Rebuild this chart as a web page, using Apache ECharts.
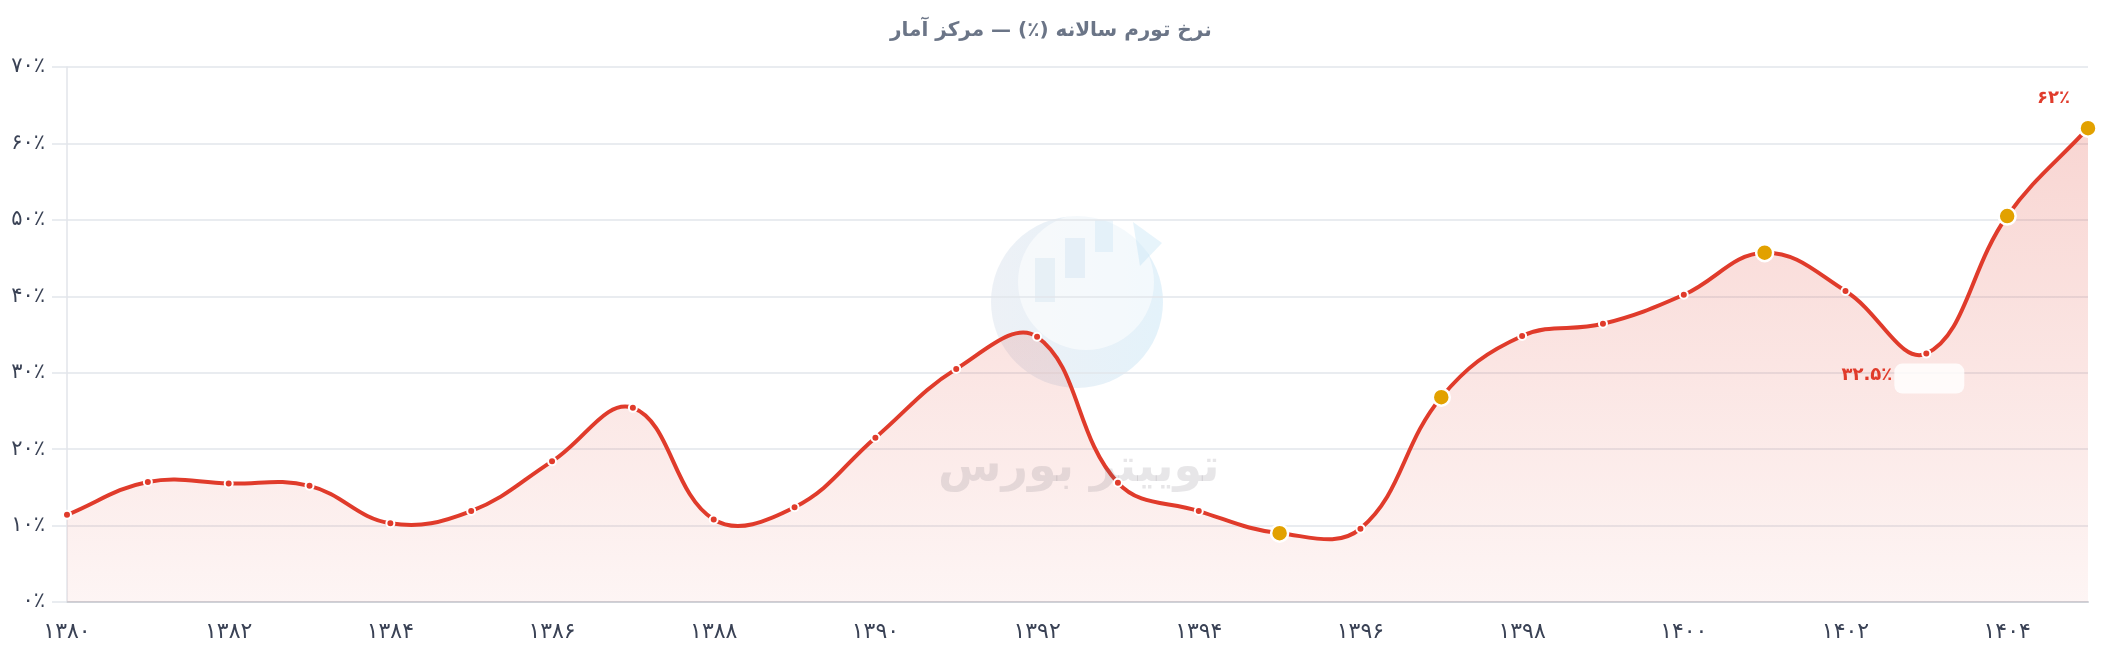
<!DOCTYPE html>
<html>
<head>
<meta charset="utf-8">
<script src="https://cdn.jsdelivr.net/npm/echarts@6/dist/echarts.min.js"></script>
<style>
html,body{margin:0;padding:0;background:#fff;}
#main{width:2108px;height:652px;}
</style>
</head>
<body>
<div id="main"></div>
<script>
// ---- data ----
const categories = ['۱۳۸۰','۱۳۸۱','۱۳۸۲','۱۳۸۳','۱۳۸۴','۱۳۸۵','۱۳۸۶','۱۳۸۷','۱۳۸۸','۱۳۸۹','۱۳۹۰','۱۳۹۱','۱۳۹۲','۱۳۹۳','۱۳۹۴','۱۳۹۵','۱۳۹۶','۱۳۹۷','۱۳۹۸','۱۳۹۹','۱۴۰۰','۱۴۰۱','۱۴۰۲','۱۴۰۳','۱۴۰۴','۱۴۰۵'];
const inflation = [11.4,15.7,15.5,15.2,10.3,11.9,18.4,25.4,10.8,12.4,21.5,30.5,34.7,15.6,11.9,9.0,9.6,26.8,34.8,36.4,40.2,45.7,40.7,32.5,50.5,62.0];
const highlightYears = ['۱۳۹۵','۱۳۹۷','۱۴۰۱','۱۴۰۴','۱۴۰۵'];
const yTickLabels = ['۰٪','۱۰٪','۲۰٪','۳۰٪','۴۰٪','۵۰٪','۶۰٪','۷۰٪'];
const lowLabelYear = '۱۴۰۳';
const lowLabelText = '۳۲.۵٪';
const highLabelYear = '۱۴۰۵';
const highLabelText = '۶۲٪';
const titleText = 'نرخ تورم سالانه (٪) — مرکز آمار';
const watermarkText = 'توییتر بورس';

const RED = '#e03b2b';
const GOLD = '#e2a100';
const FONT = 'DejaVu Sans';
const TENSION = 0.4;

const seriesData = inflation.map((v, i) => {
  const cat = categories[i];
  const item = { value: v };
  if (highlightYears.includes(cat)) {
    item.symbolSize = 17;
    item.itemStyle = { color: GOLD, borderColor: '#fff', borderWidth: 2.5 };
  }
  if (cat === highLabelYear) {
    item.label = {
      show: true, position: 'top', align: 'right', offset: [-18, -6],
      formatter: highLabelText, color: RED, fontWeight: 'bold', fontSize: 18, fontFamily: FONT
    };
  }
  if (cat === lowLabelYear) {
    item.label = {
      show: true, position: 'bottom', align: 'right', distance: 5, offset: [38, 0],
      formatter: '{t|' + lowLabelText + '}{b|}',
      rich: {
        t: { color: RED, fontWeight: 'bold', fontSize: 18, fontFamily: FONT, padding: [0, 2, 7, 0] },
        b: { width: 70, height: 30, backgroundColor: 'rgba(255,255,255,0.82)', borderRadius: 8 }
      }
    };
  }
  return item;
});

// Spline path through the points, positioned by the chart's own axes (api.coord)
function splinePath(pts, baseY) {
  const n = pts.length;
  const cps = pts.map((p, i) => {
    const prev = i > 0 ? pts[i - 1] : p;
    const next = i < n - 1 ? pts[i + 1] : p;
    const d01 = Math.hypot(p[0] - prev[0], p[1] - prev[1]);
    const d12 = Math.hypot(next[0] - p[0], next[1] - p[1]);
    const s01 = (d01 + d12) ? d01 / (d01 + d12) : 0;
    const s12 = (d01 + d12) ? d12 / (d01 + d12) : 0;
    const fa = TENSION * s01, fb = TENSION * s12;
    return {
      prev: [p[0] - fa * (next[0] - prev[0]), p[1] - fa * (next[1] - prev[1])],
      next: [p[0] + fb * (next[0] - prev[0]), p[1] + fb * (next[1] - prev[1])]
    };
  });
  let d = 'M' + pts[0][0] + ' ' + pts[0][1];
  for (let i = 0; i < n - 1; i++) {
    const a = cps[i].next, b = cps[i + 1].prev, p = pts[i + 1];
    d += ' C' + a[0] + ' ' + a[1] + ' ' + b[0] + ' ' + b[1] + ' ' + p[0] + ' ' + p[1];
  }
  const line = d;
  const area = d + ' L' + pts[n - 1][0] + ' ' + baseY + ' L' + pts[0][0] + ' ' + baseY + ' Z';
  return { line, area };
}

const chart = echarts.init(document.getElementById('main'), null, { renderer: 'canvas' });
chart.setOption({
  animation: false,
  backgroundColor: '#ffffff',
  title: {
    text: titleText, left: 885, top: 16,
    textStyle: { color: '#6b7587', fontSize: 20, fontWeight: 'bold', fontFamily: FONT }
  },
  grid: { left: 67, right: 20, top: 67, bottom: 50, containLabel: false },
  graphic: [
    { type: 'group', z: -1, silent: true, children: [
      { type: 'circle', shape: { cx: 1077, cy: 302, r: 86 },
        style: { fill: new echarts.graphic.LinearGradient(0, 0, 1, 0, [
          { offset: 0, color: 'rgba(185,200,220,0.26)' },
          { offset: 1, color: 'rgba(170,215,240,0.32)' }]) } },
      { type: 'circle', shape: { cx: 1086, cy: 282, r: 68 },
        style: { fill: 'rgba(255,255,255,0.55)' } },
      { type: 'rect', shape: { x: 1035, y: 258, width: 20, height: 44 }, style: { fill: 'rgba(175,205,230,0.2)' } },
      { type: 'rect', shape: { x: 1065, y: 238, width: 20, height: 40 }, style: { fill: 'rgba(175,205,230,0.22)' } },
      { type: 'rect', shape: { x: 1095, y: 220, width: 18, height: 32 }, style: { fill: 'rgba(175,215,240,0.22)' } },
      { type: 'polygon', shape: { points: [[1133, 222], [1162, 243], [1140, 266]] }, style: { fill: 'rgba(170,215,240,0.28)' } }
    ]},
    { type: 'text', z: 3, silent: true, left: 938, top: 446,
      style: { text: watermarkText, fill: 'rgba(110,105,120,0.17)', font: 'bold 46px "' + FONT + '"' } }
  ],
  xAxis: {
    type: 'category', data: categories, boundaryGap: false,
    axisLine: { show: true, lineStyle: { color: '#cfd2d8', width: 2 } },
    axisTick: { show: false },
    axisLabel: { interval: 1, margin: 19, color: '#3a4255', fontSize: 22, fontFamily: FONT },
    splitLine: { show: false }
  },
  yAxis: {
    type: 'value', min: 0, max: 70, interval: 10,
    axisLine: { show: true, lineStyle: { color: '#e2e5ea', width: 1.5 } },
    axisTick: { show: true, length: 15, lineStyle: { color: '#e2e6eb', width: 1.5 } },
    axisLabel: { margin: 22, color: '#3a4255', fontSize: 21, fontFamily: FONT,
      formatter: (v) => yTickLabels[Math.round(v / 10)] },
    splitLine: { show: true, lineStyle: { color: '#e2e6eb', width: 1.5 } }
  },
  series: [
    {
      type: 'custom', z: 1, silent: true, clip: false,
      data: inflation.map((v, i) => [i, v]),
      encode: { x: 0, y: 1 },
      renderItem: (params, api) => {
        if (params.dataIndex !== 0) return null;
        const pts = inflation.map((v, i) => api.coord([i, v]));
        const baseY = api.coord([0, 0])[1];
        const p = splinePath(pts, baseY);
        return { type: 'group', children: [
          { type: 'path', shape: { pathData: p.area },
            style: { fill: new echarts.graphic.LinearGradient(0, 0, 0, 1, [
              { offset: 0, color: 'rgba(224,59,43,0.21)' },
              { offset: 1, color: 'rgba(224,59,43,0.05)' }]), stroke: null } },
          { type: 'path', shape: { pathData: p.line },
            style: { fill: null, stroke: RED, lineWidth: 4, lineJoin: 'round', lineCap: 'round' } }
        ]};
      }
    },
    {
      type: 'line', data: seriesData, z: 3,
      symbol: 'circle', symbolSize: 8, showAllSymbol: true,
      lineStyle: { opacity: 0, width: 0 },
      itemStyle: { color: RED, borderColor: '#fff', borderWidth: 2 }
    }
  ]
});
</script>
</body>
</html>
